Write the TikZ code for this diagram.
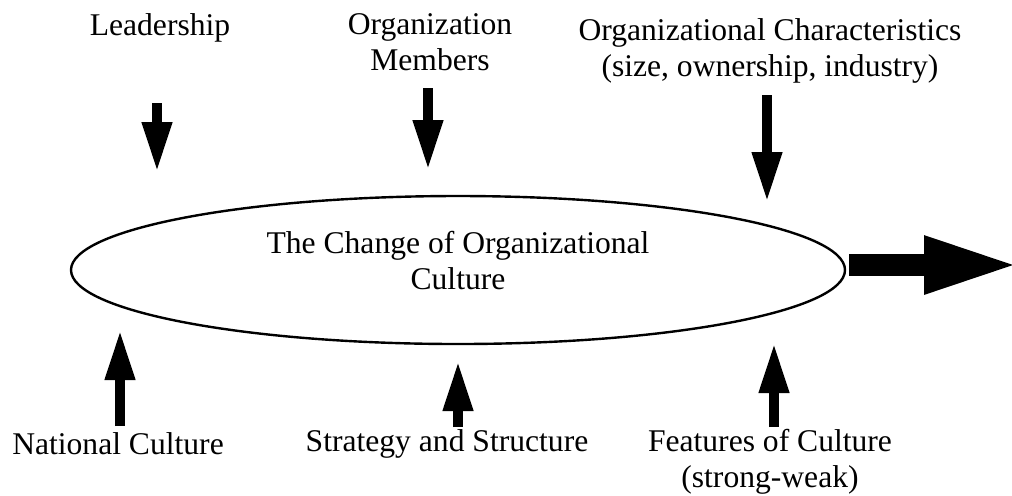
\documentclass[tikz,border=0pt]{standalone}
\usepackage{fontspec}
\setmainfont{Liberation Serif}
\usetikzlibrary{arrows.meta,shapes.geometric}

\tikzset{
    factor/.style={align=center, inner sep=0pt, font=\fontsize{15.8}{18}\selectfont},
    push/.style={line width=5pt, -{Triangle[width=14pt,length=25pt]}},
    bigpush/.style={line width=11pt, -{Triangle[width=26pt,length=48.5pt]}}
}

\begin{document}
\begin{tikzpicture}[x=0.5pt, y=-0.5pt]
    \useasboundingbox (0,0) rectangle (1012,495);
    % Centre
    \node[draw, ellipse, line width=1.2pt, minimum width=387pt, minimum height=74pt] (change) at (458,270) {};
    \node[factor] (changetxt) at (458,261) {The Change of Organizational\\Culture};
    % Factors above
    \node[factor] (lead) at (160,28) {Leadership};
    \node[factor] (members) at (430,42) {Organization\\Members};
    \node[factor] (chars) at (770,51) {Organizational Characteristics\\(size, ownership, industry)};
    % Factors below
    \node[factor] (natl) at (118,444) {National Culture};
    \node[factor] (strat) at (447,444) {Strategy and Structure};
    \node[factor] (feat) at (770,462) {Features of Culture\\(strong-weak)};
    % Arrow ends
    \coordinate (lead-a) at (157,103);
    \coordinate (lead-b) at (157,172);
    \coordinate (members-a) at (428,88);
    \coordinate (members-b) at (428,170);
    \coordinate (chars-a) at (767,95);
    \coordinate (chars-b) at (767,202);
    \coordinate (natl-a) at (120,426);
    \coordinate (natl-b) at (120,330);
    \coordinate (strat-a) at (458,427);
    \coordinate (strat-b) at (458,361);
    \coordinate (feat-a) at (774,427);
    \coordinate (feat-b) at (774,343);
    \coordinate (out) at (1021,265);
    % Arrows
    \draw[push] (lead-a) -- (lead-b);
    \draw[push] (members-a) -- (members-b);
    \draw[push] (chars-a) -- (chars-b);
    \draw[push] (natl-a) -- (natl-b);
    \draw[push] (strat-a) -- (strat-b);
    \draw[push] (feat-a) -- (feat-b);
    \draw[bigpush] ([xshift=1.5pt]change.east |- out) -- (out);
\end{tikzpicture}
\end{document}
